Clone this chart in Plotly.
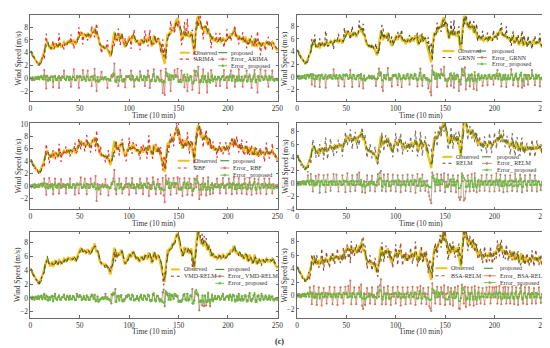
import plotly.graph_objects as go

# ---------------- data ----------------
observed = [
4.3,4.0,3.6,3.3,3.0,2.8,2.6,2.5,2.3,2.2,
2.5,2.8,3.3,3.6,4.3,4.8,5.4,5.8,5.2,5.0,
4.6,4.9,5.3,4.5,4.9,5.5,5.2,4.8,5.0,5.6,
5.3,5.0,5.1,5.4,5.7,5.5,5.2,5.6,5.8,5.5,
5.9,5.6,5.4,5.8,6.0,5.6,5.3,5.9,6.3,6.5,
7.0,7.3,6.9,6.6,7.0,6.8,6.4,6.9,7.1,6.7,
6.3,6.6,7.0,7.4,7.1,7.9,7.2,6.6,6.9,6.0,
5.4,5.1,4.9,5.0,4.8,4.7,4.9,4.6,4.5,4.3,
3.9,3.4,4.1,5.0,6.2,7.3,6.6,5.8,6.2,6.6,
6.1,6.5,7.0,6.4,5.7,5.2,4.9,5.3,5.6,6.0,
6.4,6.2,5.8,6.5,6.8,6.3,5.9,5.6,6.0,5.7,
5.2,5.5,6.1,5.8,5.4,5.9,6.3,6.0,5.6,6.2,
6.6,6.1,5.5,5.0,5.8,6.7,6.2,5.5,5.9,6.3,
6.0,5.4,5.1,4.5,3.8,3.0,2.3,4.4,5.8,7.0,
6.6,7.3,7.0,7.6,8.0,7.7,8.3,8.8,9.2,9.4,
8.6,8.0,7.2,6.4,6.0,6.6,7.4,7.0,6.5,7.3,
6.8,6.4,6.9,7.2,5.8,4.6,4.2,6.5,8.4,9.4,
9.8,9.1,8.4,7.8,8.2,7.5,7.8,8.3,7.6,6.9,
7.8,7.2,6.3,6.0,6.6,6.0,5.8,6.1,5.9,5.7,
6.0,6.2,5.9,5.7,6.0,6.4,6.1,5.8,5.9,6.2,
6.5,6.2,6.8,7.0,6.6,7.2,7.6,7.0,6.5,6.8,
6.3,6.7,6.4,6.0,6.3,5.9,5.6,6.1,6.5,5.9,
5.3,5.6,6.3,5.8,5.2,5.0,5.5,6.3,5.6,4.9,
5.2,5.7,5.4,5.0,5.3,5.6,5.3,5.1,5.5,5.7,
5.4,5.2,5.6,5.3,5.5,5.7,5.4,5.0,4.8,4.6,
4.3]

err_proposed = [
0.1,-0.2,0.2,0.0,-0.3,0.2,0.1,-0.1,0.3,-0.2,
0.2,0.4,-0.1,0.3,0.5,-0.2,0.4,-0.3,-0.4,0.1,
-0.3,0.2,0.3,-0.5,0.2,0.4,-0.2,-0.3,0.1,0.4,
-0.2,-0.3,0.1,0.2,0.3,-0.1,-0.3,0.3,0.2,-0.3,
0.3,-0.2,-0.2,0.3,0.2,-0.3,-0.3,0.4,0.3,0.2,
0.4,0.2,-0.3,-0.2,0.3,-0.1,-0.3,0.4,0.2,-0.3,
-0.3,0.2,0.3,0.3,-0.2,0.5,-0.5,-0.4,0.2,-0.6,
-0.4,-0.2,-0.1,0.1,-0.2,0.0,0.2,-0.2,-0.1,-0.2,
-0.3,-0.4,0.5,0.6,0.8,0.7,-0.5,-0.6,0.3,0.3,
-0.4,0.3,0.4,-0.5,-0.5,-0.4,-0.2,0.3,0.3,0.3,
0.4,-0.1,-0.3,0.5,0.3,-0.4,-0.3,-0.2,0.3,-0.2,
-0.4,0.2,0.5,-0.2,-0.3,0.4,0.3,-0.2,-0.3,0.5,
0.4,-0.4,-0.5,-0.4,0.6,0.7,-0.4,-0.5,0.3,0.3,
-0.2,-0.5,-0.3,-0.5,-0.6,-0.7,-0.6,1.0,0.8,0.7,
-0.3,0.6,-0.3,0.5,0.4,-0.2,0.5,0.5,0.4,0.3,
-0.6,-0.5,-0.6,-0.6,-0.3,0.5,0.6,-0.3,-0.4,0.6,
-0.4,-0.3,0.4,0.3,-0.8,-0.8,-0.4,1.0,1.2,0.8,
0.5,-0.6,-0.6,-0.5,0.4,-0.6,0.3,0.4,-0.6,-0.6,
0.8,-0.5,-0.7,-0.3,0.5,-0.5,-0.2,0.3,-0.2,-0.2,
0.3,0.2,-0.3,-0.2,0.3,0.4,-0.3,-0.3,0.1,0.3,
0.3,-0.3,0.5,0.2,-0.4,0.5,0.4,-0.5,-0.5,0.3,
-0.4,0.4,-0.3,-0.4,0.3,-0.4,-0.3,0.4,0.4,-0.5,
-0.5,0.3,0.6,-0.4,-0.5,-0.2,0.4,0.7,-0.6,-0.6,
0.3,0.4,-0.3,-0.4,0.3,0.3,-0.3,-0.2,0.4,0.2,
-0.3,-0.2,0.4,-0.3,0.2,0.2,-0.3,-0.4,-0.2,-0.2,
-0.3]

err_arima = [
0.1,-0.2,-0.3,-0.1,-0.2,0.1,-0.1,0.2,-0.1,0.1,
0.2,0.3,0.1,-0.2,1.3,0.2,-1.6,0.4,-0.3,0.1,
-0.2,0.3,0.2,-1.4,0.3,0.2,-0.3,-0.1,0.2,-1.5,
0.1,-0.2,0.3,0.1,1.2,-0.1,-0.2,0.3,0.2,-0.3,
0.2,-1.3,-0.1,0.2,1.4,-0.2,-0.3,0.2,0.1,-1.5,
0.3,0.2,-0.3,1.3,0.2,-0.1,-0.4,0.2,1.2,-0.2,
-0.3,0.2,-1.2,0.3,-0.2,1.5,-0.3,-2.0,0.2,-0.4,
-0.3,0.2,1.0,0.1,-0.2,0.1,0.2,-0.2,-1.5,-0.1,
-0.2,-0.3,0.3,0.2,0.4,2.3,-0.4,-0.3,0.2,-1.2,
-0.3,1.3,0.2,-0.3,-0.2,-0.1,-1.4,0.3,0.2,0.3,
0.2,-0.1,1.2,-0.2,0.3,-1.3,-0.2,-0.1,0.2,-0.3,
-0.2,1.1,0.3,-0.2,-0.3,0.2,-1.2,0.1,0.2,1.2,
0.2,-1.5,-0.3,-0.2,0.3,1.4,-0.4,-0.3,0.2,0.1,
-0.2,-0.3,1.2,-0.2,-2.3,-0.4,-2.6,1.5,0.4,0.3,
-0.2,0.4,-2.0,0.2,0.3,-0.1,1.3,0.2,0.3,1.5,
-0.4,-0.3,-0.2,1.2,-0.3,0.2,-1.4,0.2,-0.3,-2.0,
0.1,-0.2,0.3,0.2,-1.8,-0.6,1.2,0.5,-0.3,0.4,
1.8,-2.3,-0.3,-0.2,0.3,1.4,-0.2,0.3,-0.4,-2.2,
0.3,-0.2,-0.3,1.3,0.2,-0.2,-0.1,0.2,-1.2,-0.1,
0.2,0.1,-1.2,-0.1,0.2,0.3,1.3,-0.2,0.1,-1.5,
0.2,-0.2,0.3,1.2,-0.3,0.2,0.3,-1.3,-0.2,0.2,
-0.3,1.4,-0.2,-0.3,0.2,-1.3,-0.2,0.3,0.2,1.2,
-0.3,0.2,0.3,-0.2,-1.5,-0.1,0.2,1.3,-0.3,-0.2,
-2.2,0.3,-0.2,1.4,0.2,0.2,-0.2,-0.1,1.2,0.2,
-0.2,-1.3,0.3,-0.2,0.1,1.2,-0.2,-0.3,-0.1,-0.2,
-0.3]

err_grnn = [
0.2,-0.1,-0.3,-0.2,0.1,-0.2,-0.1,0.1,-0.2,-0.3,
0.3,0.2,-0.1,0.2,0.3,-1.2,0.4,0.3,-1.5,0.2,
-0.3,0.1,0.3,-1.6,0.2,0.3,-0.2,-0.3,0.1,-1.7,
-0.2,0.1,0.2,-0.1,0.3,-0.2,-0.3,1.2,0.1,-0.2,
0.3,-0.3,-1.4,0.2,0.1,-0.2,-0.4,0.3,-1.5,0.2,
0.4,0.2,-0.3,-0.2,1.1,-0.1,-1.6,0.3,0.2,-0.3,
-0.4,0.1,0.2,-1.5,-0.2,0.4,-0.3,-1.8,0.2,-0.5,
-0.3,-0.2,-0.1,0.2,-0.2,0.1,-0.3,-0.2,0.1,-0.3,
-1.4,-0.3,-0.2,1.3,0.2,0.5,-1.6,-2.2,0.2,-0.2,
-0.3,0.3,1.4,-0.2,-0.4,-0.2,-1.5,0.2,0.1,0.3,
0.2,-0.2,-1.3,0.3,0.1,-0.3,-1.6,-0.1,0.2,-0.2,
-0.3,0.2,0.4,-0.2,-1.2,0.1,0.3,-0.2,-0.3,0.2,
0.3,-0.2,-1.5,-0.3,0.2,1.3,-0.2,-1.4,0.1,0.2,
-0.2,-0.3,-0.2,-1.8,-0.4,-2.4,-2.9,1.8,0.4,0.3,
-0.3,0.2,-1.6,0.3,0.2,-0.2,1.2,0.3,0.2,1.6,
-0.3,-0.4,-1.5,-0.3,-0.2,0.3,-1.4,0.2,-0.2,-1.7,
0.2,-0.3,0.2,0.1,-2.2,-0.4,-1.2,1.3,0.3,0.2,
1.5,-2.0,-0.4,-0.2,0.2,-1.5,-0.3,0.4,-0.3,-1.9,
0.2,-0.3,-2.1,0.3,0.2,-0.3,-0.2,0.1,-1.4,-0.2,
0.1,0.2,-0.3,-1.3,0.2,0.1,-0.2,-0.3,0.2,-1.2,
0.3,-0.2,0.2,1.1,-0.3,0.2,0.1,-1.5,-0.2,0.2,
-0.3,0.2,-1.6,-0.2,0.1,-0.3,-0.2,1.2,0.3,-1.3,
-0.2,0.1,0.2,-0.3,-1.5,-0.2,0.3,0.2,-1.7,-0.3,
-1.4,0.2,-0.2,0.3,-1.2,0.2,-0.3,-0.2,1.1,0.2,
-0.3,-1.3,0.2,-0.2,0.1,0.3,-1.5,-0.2,-0.1,-0.3,
-0.2]

err_rbf = [
0.1,-0.2,0.2,-0.1,0.3,-0.2,0.1,-0.1,0.2,-0.1,
0.3,0.2,0.4,0.1,1.2,-0.2,-1.4,0.3,-0.2,1.3,
0.2,-0.1,0.3,-1.3,0.2,1.2,-0.2,0.1,0.3,-1.2,
0.2,1.1,-0.2,0.3,-0.1,0.2,-1.2,0.2,0.3,-0.2,
1.2,-0.2,-0.3,0.2,0.3,-1.4,0.1,0.4,0.2,-1.2,
0.3,1.4,-0.2,-0.3,0.2,1.2,-0.1,-1.3,0.3,0.2,
-0.2,1.2,0.3,-0.1,-0.2,0.3,1.6,-2.4,0.3,-0.3,
0.2,-1.3,0.1,0.3,-0.2,0.1,1.1,-0.2,0.1,-1.5,
-0.2,-0.3,0.2,0.3,1.2,2.6,-0.5,-1.3,0.3,0.2,
1.2,-0.2,0.3,-1.2,-0.3,-0.1,0.2,1.3,-0.2,0.3,
-1.4,0.2,0.1,1.3,-0.3,0.2,-0.2,-1.2,0.3,-0.1,
0.2,1.2,-0.3,0.1,-1.3,0.2,0.3,-0.1,1.2,-0.2,
-1.6,0.2,-0.3,0.1,1.4,0.3,-0.2,-1.3,0.2,1.1,
-0.2,0.3,-1.2,-0.4,1.3,-1.5,-2.6,1.7,0.3,0.4,
1.2,-0.3,-1.4,0.2,0.3,1.3,-0.2,0.3,-1.2,1.4,
-0.3,1.2,-0.4,-0.2,-1.6,0.2,1.3,-0.2,0.3,-1.4,
0.2,1.2,-0.3,0.2,-1.5,-0.5,1.2,0.4,-0.2,1.6,
0.4,-2.1,0.2,-1.4,0.3,1.3,-0.2,0.3,-1.5,-0.2,
1.4,-0.2,-1.3,0.2,0.3,-1.2,0.1,0.3,-0.2,1.2,
-0.2,0.1,-1.2,0.3,0.2,1.3,-0.2,0.1,-1.2,0.2,
0.3,1.2,-0.2,0.3,-1.3,0.2,1.4,-0.3,0.2,-1.2,
0.2,1.3,-0.3,0.1,-1.2,0.2,0.3,1.2,-0.2,-1.3,
0.2,-0.3,1.3,0.2,-1.4,0.1,0.3,1.2,-0.3,-1.2,
0.3,1.1,-0.2,-1.2,0.2,0.3,-0.2,1.2,0.1,-1.3,
0.2,-0.2,1.2,-0.3,0.2,-1.2,0.3,-0.2,0.1,-0.2,
0.2]

err_relm = [
0.2,-0.3,0.1,-0.2,0.2,-0.1,0.3,-0.2,0.1,-0.2,
0.3,1.2,0.2,-0.3,1.4,0.2,-1.3,0.3,-0.2,1.1,
-0.2,0.3,1.3,-1.5,0.2,0.3,-0.2,1.2,-0.3,-1.4,
0.2,1.3,-0.3,0.2,-1.2,0.3,-0.2,1.4,0.2,-0.3,
1.3,-0.2,-1.3,0.3,0.2,-0.3,1.2,-0.2,0.3,-1.4,
0.3,1.5,-0.2,0.2,-1.3,0.3,1.2,-0.3,0.2,-1.2,
0.3,1.3,-0.2,1.6,-0.3,0.2,-1.4,-0.2,0.3,-1.5,
0.2,1.2,-0.3,0.2,-1.2,0.3,1.1,-0.2,0.2,-1.3,
-0.3,0.2,1.4,-0.2,1.6,1.9,-1.2,0.3,1.3,-0.2,
-1.3,0.3,1.4,-0.2,0.2,-1.2,0.3,1.3,-0.2,0.2,
-1.3,0.2,1.2,-0.3,0.3,-1.4,0.2,1.2,-0.2,0.3,
-1.2,0.2,1.3,-0.3,0.2,-1.3,0.3,1.2,-0.2,0.2,
-1.5,0.3,1.4,-0.2,0.3,-1.2,0.2,1.3,-0.3,0.2,
-1.2,0.3,0.4,-1.4,-2.0,-2.6,-3.1,1.6,1.2,0.3,
-1.3,0.2,1.4,-0.3,0.2,-1.2,1.3,-0.2,0.3,1.5,
-1.4,0.2,-0.3,1.3,-0.2,0.3,-1.3,0.2,1.2,-0.3,
0.2,-1.4,0.3,1.2,-2.2,-2.6,-2.2,1.5,0.3,-2.7,
-2.4,-1.3,0.3,1.2,-0.2,-1.3,0.3,1.4,-0.2,-1.2,
1.5,-0.2,-1.4,0.3,0.2,-1.2,0.3,1.2,-0.2,0.2,
-1.2,0.3,1.3,-0.2,0.2,-1.3,0.3,1.2,-0.2,0.2,
-1.3,0.2,1.5,-0.2,0.3,-1.2,1.3,-0.3,0.2,-1.4,
0.3,1.2,-0.2,-1.3,0.2,0.3,1.2,-0.2,-1.2,0.3,
0.2,1.4,-0.3,-1.3,0.2,0.3,1.3,-0.2,-1.4,0.2,
0.3,1.2,-0.2,-1.2,0.3,0.2,1.3,-0.3,-1.2,0.2,
0.3,1.2,-0.2,-1.3,0.2,0.3,-0.2,-1.1,0.2,-0.3,
0.2]

err_vmd_relm = [
0.1,-0.1,-0.2,0.1,-0.1,0.1,-0.1,0.2,-0.1,0.1,
0.2,0.1,-0.2,0.1,0.6,-0.1,0.3,0.2,-0.3,0.1,
-0.2,0.1,0.3,-0.4,0.2,0.6,-0.1,-0.2,0.1,0.3,
-0.2,-0.1,0.1,0.1,0.5,-0.1,-0.2,0.2,0.1,-0.2,
0.3,-0.1,-0.2,0.2,0.1,-0.2,-0.3,0.6,0.2,0.1,
0.4,0.2,-0.3,-0.1,0.2,-0.1,-0.3,0.3,0.1,-0.2,
-0.2,0.1,0.5,0.3,-0.1,0.4,-0.3,-0.4,0.2,-0.5,
-0.3,-0.1,-0.1,0.1,-0.1,0.1,0.6,-0.1,0.1,-0.2,
-0.2,-0.4,-0.8,0.4,0.5,0.6,1.3,-0.6,0.2,0.3,
-0.3,0.2,0.4,-0.3,-0.4,-0.2,-0.1,0.2,0.1,0.5,
0.3,-0.1,-0.2,0.4,0.2,-0.3,-0.2,-0.1,0.2,-0.1,
-0.3,0.1,0.4,-0.1,-0.2,0.3,0.2,-0.1,-0.2,0.4,
0.3,-0.3,-0.4,-0.3,0.5,0.4,-0.2,-0.4,0.2,0.3,
-0.1,-0.4,-0.2,-0.4,0.8,1.2,-1.2,0.7,0.5,0.4,
-0.2,0.4,-0.2,0.3,0.3,-0.1,0.6,0.3,0.2,0.2,
-0.5,-0.4,-0.5,-0.4,-0.2,0.3,0.5,-0.2,-0.3,0.6,
-0.2,-0.2,0.3,0.2,1.3,-0.8,-0.3,0.8,0.6,0.5,
0.3,-1.8,-0.4,-0.4,-1.1,-0.4,-1.2,0.3,-1.1,-0.4,
0.6,-0.3,-1.2,-0.2,0.4,-0.3,-0.1,0.2,-0.1,-0.1,
0.2,0.1,-0.2,-0.1,0.2,0.6,-0.2,-0.1,0.1,0.2,
0.2,-0.1,0.4,0.2,-0.2,0.4,0.3,-0.3,-0.3,0.2,
-0.3,0.6,-0.2,-0.2,0.2,-0.2,-0.2,0.3,0.2,-0.3,
-0.4,0.2,0.7,-0.2,-0.3,-0.1,0.3,0.5,-0.3,-0.4,
0.2,0.3,-0.2,-0.2,0.6,0.2,-0.2,-0.1,0.2,0.1,
-0.2,-0.1,0.2,-0.2,0.1,0.2,-0.2,-0.2,-0.1,-0.1,
-0.2]

err_bsa_relm = [
0.2,-0.1,0.2,-0.2,0.1,-0.1,0.2,-0.1,0.1,-0.2,
0.2,0.3,-0.2,1.2,0.3,-1.3,0.2,1.4,-0.2,0.3,
-1.4,0.2,1.2,-0.3,0.2,-1.5,0.3,1.1,-0.2,0.2,
-1.2,0.3,0.2,1.3,-0.2,0.1,-1.3,0.2,1.2,-0.1,
0.2,-1.4,0.3,0.2,1.2,-0.3,0.1,-1.2,0.3,1.3,
0.2,-0.3,1.4,-0.2,2.2,-1.3,0.3,0.2,1.2,-0.2,
-1.3,0.3,0.2,1.2,-0.2,1.6,-1.5,-2.0,0.3,-1.4,
0.2,1.1,-0.2,0.3,-1.2,0.2,1.2,-0.3,0.1,-1.3,
-0.2,0.3,1.3,-0.2,1.5,2.4,-1.3,-0.2,1.2,0.3,
-1.3,0.2,1.4,-0.3,0.2,-1.4,0.2,1.2,-0.2,0.3,
-1.2,0.2,1.3,-0.2,0.3,-1.5,0.2,1.2,-0.3,0.2,
-1.3,0.3,1.2,-0.2,0.1,-1.2,0.3,1.3,-0.2,0.2,
-1.4,0.2,1.2,-0.3,0.2,1.4,-1.2,0.3,1.1,-0.2,
0.3,-1.3,0.2,1.2,-1.6,-1.9,-2.3,1.8,0.4,0.3,
-1.2,0.3,1.3,-0.2,0.2,-1.3,1.2,0.2,-0.3,1.5,
-1.4,0.2,0.3,1.2,-0.2,-1.3,1.1,0.2,-1.5,0.3,
1.2,-0.2,0.3,1.4,-1.9,-2.0,-0.4,1.6,0.3,-1.2,
1.3,-1.7,-0.3,1.2,0.2,-1.4,0.3,1.2,-0.2,-1.5,
1.4,-0.2,-1.3,0.3,1.2,-0.2,-1.2,0.3,1.1,-0.2,
-1.3,0.2,1.2,-0.3,0.2,1.3,-1.2,0.2,1.2,-0.3,
1.2,-0.2,1.3,-1.2,0.3,1.4,-0.2,-1.3,0.2,1.2,
-0.2,1.3,-1.2,0.2,1.2,-0.3,-1.2,0.2,1.3,-0.2,
-1.3,0.3,1.2,-0.2,-1.4,0.2,1.1,1.5,-0.3,-1.2,
0.3,1.2,-0.2,-1.3,0.2,1.2,-0.3,0.2,-1.2,0.3,
1.1,-0.2,-1.2,0.3,0.2,1.2,-0.3,-1.1,0.2,-0.2,
0.3]

models = ["ARIMA", "GRNN", "RBF", "RELM", "VMD-RELM", "BSA-RELM"]
model_errors = [err_arima, err_grnn, err_rbf, err_relm, err_vmd_relm, err_bsa_relm]
x_ticks = [0, 50, 100, 150, 200, 250]
y_ticks = [[-2, 0, 2, 4, 6, 8], [-2, 0, 2, 4, 6, 8], [-2, 0, 2, 4, 6, 8, 10],
           [-4, -2, 0, 2, 4, 6, 8], [-2, 0, 2, 4, 6, 8], [-2, 0, 2, 4, 6, 8]]
x_title = "Time (10 min)"
y_title = "Wind Speed (m/s)"

# ---------------- styles ----------------
W, H = 550, 348
FONT = "Liberation Serif, Times New Roman, serif"
C_OBS = "#EEC21C"
C_PROP = "#3A7A2A"
C_EPROP = "#62BE3C"
pred_colors = ["#E83030", "#6A4A2E", "#E83030", "#7F7060", "#8B3A3A", "#955030"]
err_colors = ["#D8706C", "#C07A62", "#D8706C", "#B08A70", "#B07A60", "#CC7A5C"]

def px(x):
    return x / W

def py(y):
    return 1 - y / H

# panel geometry in pixels
panels = [
    dict(xd=(20.7, 271.7), yd=(4.6, 92.6), yr=(-3.62, 9.83),
         leg=((172, 182), 184, (211, 220), 222, (42.7, 49.3, 56.0))),
    dict(xd=(290.7, 541.7), yd=(4.6, 92.6), yr=(-3.87, 9.7),
         leg=((438, 450), 452, (473, 483), 486, (41.0, 47.6, 54.2))),
    dict(xd=(20.7, 271.7), yd=(114.7, 202.7), yr=(-3.7, 10.15),
         leg=((170, 182), 184, (213, 222), 224, (153.3, 160.7, 168.0))),
    dict(xd=(290.7, 541.7), yd=(114.7, 202.7), yr=(-4.0, 9.25),
         leg=((438, 448), 450, (478, 488), 491, (149.3, 156.0, 162.7))),
    dict(xd=(20.7, 271.7), yd=(226.0, 314.0), yr=(-2.88, 9.6),
         leg=((163, 172), 174, (208, 217), 219, (264.5, 271.5, 278.7))),
    dict(xd=(290.7, 541.7), yd=(226.0, 314.0), yr=(-3.31, 9.46),
         leg=((431, 443), 445, (480, 492), 494, (263.3, 271.0, 278.0))),
]

fig = go.Figure()
shapes = []
annotations = []
layout = {}

t_obs = list(range(len(observed)))
t_ep = list(range(len(err_proposed)))
pred_prop = [o - e for o, e in zip(observed, err_proposed)]

for i, (name, err, p) in enumerate(zip(models, model_errors, panels)):
    k = i + 1
    xa = "x" if k == 1 else f"x{k}"
    ya = "y" if k == 1 else f"y{k}"
    pred = [o - e for o, e in zip(observed, err)]
    t_err = list(range(len(err)))

    fig.add_trace(go.Scatter(x=t_obs, y=observed, mode="lines", xaxis=xa, yaxis=ya,
                             line=dict(color=C_OBS, width=2.3), showlegend=False))
    fig.add_trace(go.Scatter(x=t_obs[:len(pred)], y=pred, mode="lines", xaxis=xa, yaxis=ya,
                             line=dict(color=pred_colors[i], width=1.2, dash="dot"),
                             showlegend=False))
    fig.add_trace(go.Scatter(x=t_obs[:len(pred_prop)], y=pred_prop, mode="lines", xaxis=xa, yaxis=ya,
                             line=dict(color=C_PROP, width=1.0, dash="dash"),
                             showlegend=False))
    fig.add_trace(go.Scatter(x=t_err, y=err, mode="lines+markers", xaxis=xa, yaxis=ya,
                             line=dict(color=err_colors[i], width=0.7),
                             marker=dict(color=err_colors[i], size=2.2, symbol="circle"),
                             showlegend=False))
    fig.add_trace(go.Scatter(x=t_ep, y=err_proposed, mode="lines+markers", xaxis=xa, yaxis=ya,
                             line=dict(color=C_EPROP, width=0.8),
                             marker=dict(color=C_EPROP, size=2.0, symbol="circle"),
                             showlegend=False))

    axis_common = dict(showline=True, linecolor="#6a6a6a", linewidth=0.8, mirror="ticks",
                       ticks="inside", ticklen=2.5, tickcolor="#6a6a6a", tickwidth=0.8,
                       showgrid=False, zeroline=False,
                       tickfont=dict(family=FONT, size=7.5, color="#333"))
    xkey = "xaxis" if k == 1 else f"xaxis{k}"
    ykey = "yaxis" if k == 1 else f"yaxis{k}"
    layout[xkey] = dict(axis_common, domain=[px(p["xd"][0]), px(p["xd"][1])],
                        range=[0, 251], tickvals=x_ticks, anchor=ya)
    layout[ykey] = dict(axis_common, domain=[py(p["yd"][1]), py(p["yd"][0])],
                        range=list(p["yr"]), tickvals=y_ticks[i], anchor=xa)

    # axis titles
    xc = (p["xd"][0] + p["xd"][1]) / 2
    annotations.append(dict(text=x_title, xref="paper", yref="paper",
                            x=px(xc), y=py(p["yd"][1] + 14.5), xanchor="center", yanchor="middle",
                            showarrow=False, font=dict(family=FONT, size=7.5, color="#333")))
    yc = (p["yd"][0] + p["yd"][1]) / 2
    annotations.append(dict(text=y_title, xref="paper", yref="paper", textangle=-90,
                            x=px(p["xd"][0] - 12.5), y=py(yc), xanchor="center", yanchor="middle",
                            showarrow=False, font=dict(family=FONT, size=7.5, color="#333")))

    # legend (manual, 2 columns)
    (c1a, c1b), t1, (c2a, c2b), t2, rows = p["leg"]
    entries = [
        (c1a, c1b, t1, rows[0], "Observed", dict(color=C_OBS, width=2), None),
        (c2a, c2b, t2, rows[0], "proposed", dict(color=C_PROP, width=1, dash="dash"), None),
        (c1a, c1b, t1, rows[1], name, dict(color=pred_colors[i], width=1.2, dash="dot"), None),
        (c2a, c2b, t2, rows[1], "Error_ " + name, dict(color=err_colors[i], width=0.9), err_colors[i]),
        (c2a, c2b, t2, rows[2], "Error_ proposed", dict(color=C_EPROP, width=0.9), C_EPROP),
    ]
    for xa0, xa1, tx, ry, label, ln, mk in entries:
        shapes.append(dict(type="line", xref="paper", yref="paper",
                           x0=px(xa0), x1=px(xa1), y0=py(ry), y1=py(ry), line=ln))
        if mk:
            cx = (xa0 + xa1) / 2
            shapes.append(dict(type="circle", xref="paper", yref="paper",
                               x0=px(cx - 1.1), x1=px(cx + 1.1), y0=py(ry + 1.1), y1=py(ry - 1.1),
                               fillcolor=mk, line=dict(color=mk, width=0.5)))
        annotations.append(dict(text=label, xref="paper", yref="paper", x=px(tx), y=py(ry),
                                xanchor="left", yanchor="middle", showarrow=False,
                                font=dict(family=FONT, size=6, color="#333")))

annotations.append(dict(text="<b>(c)</b>", xref="paper", yref="paper", x=px(273), y=py(338),
                        xanchor="center", yanchor="middle", showarrow=False,
                        font=dict(family=FONT, size=8, color="#222")))

fig.update_layout(width=W, height=H, margin=dict(l=0, r=0, t=0, b=0),
                  paper_bgcolor="white", plot_bgcolor="white",
                  shapes=shapes, annotations=annotations, showlegend=False, **layout)

fig.write_html("out.html")
